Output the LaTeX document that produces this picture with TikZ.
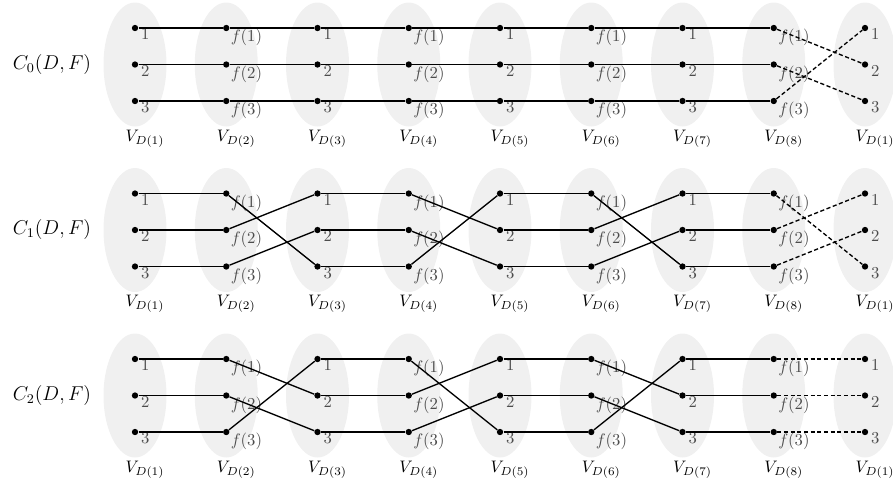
\documentclass[tikz,border=0pt]{standalone}
\begin{document}
\begin{tikzpicture}[x=0.6pt,y=-0.6pt,
  vset/.style={fill=black!6, draw=none},
  dot/.style={circle, fill=black, inner sep=0pt, minimum size=3.8pt},
  lbl/.style={anchor=north west, inner sep=0pt, text=black!70, font=\normalsize},
  vlbl/.style={inner sep=1pt},
  clbl/.style={inner sep=1pt, font=\large},
  edge/.style={line width=0.8pt},
  wrap/.style={line width=0.8pt, dash pattern=on 2.5pt off 1.5pt}]
\useasboundingbox (0,0) rectangle (893,484);
\foreach \r in {0,1,2}{
  \foreach \c in {1,...,9}{
    \pgfmathsetmacro\cx{135+91.25*(\c-1)}
    \pgfmathsetmacro\cy{64.5+165.5*\r}
    \fill[vset] (\cx,\cy) ellipse [x radius=18.9pt, y radius=37.2pt];
    \pgfmathtruncatemacro\vi{\c==9 ? 1 : \c}
    \node[vlbl] (v\r-\c) at (\cx+10,\cy+74) {$V_{D(\vi)}$};
    \foreach \k in {1,2,3}{
      \node[dot] (p\r-\c-\k) at (\cx, \cy-36.5+36.5*\k-36.5) {};
      \ifodd\c
        \node[lbl] (l\r-\c-\k) at ([xshift=3.5pt,yshift=-0.5pt]p\r-\c-\k.center) {$\k$};
      \else
        \node[lbl] (l\r-\c-\k) at ([xshift=2.5pt,yshift=-0.5pt]p\r-\c-\k.center) {$f(\k)$};
      \fi
    }
  }
  \node[clbl] (C\r) at (52, 64+165.5*\r) {$C_{\r}(D,F)$};
  \foreach \c in {1,3,5,7}{
    \pgfmathtruncatemacro\n{\c+1}
    \foreach \k in {1,2,3}{
      \draw[edge] (p\r-\c-\k) -- (p\r-\n-\k);
    }
  }
}
\foreach \r/\c/\a/\b/\d/\s in {
  0/2/1/2/3/edge, 0/4/1/2/3/edge, 0/6/1/2/3/edge, 0/8/2/3/1/wrap,
  1/2/3/1/2/edge, 1/4/2/3/1/edge, 1/6/3/1/2/edge, 1/8/3/1/2/wrap,
  2/2/2/3/1/edge, 2/4/3/1/2/edge, 2/6/2/3/1/edge, 2/8/1/2/3/wrap}{
  \pgfmathtruncatemacro\n{\c+1}
  \draw[\s] (p\r-\c-1) -- (p\r-\n-\a);
  \draw[\s] (p\r-\c-2) -- (p\r-\n-\b);
  \draw[\s] (p\r-\c-3) -- (p\r-\n-\d);
}
\end{tikzpicture}
\end{document}
